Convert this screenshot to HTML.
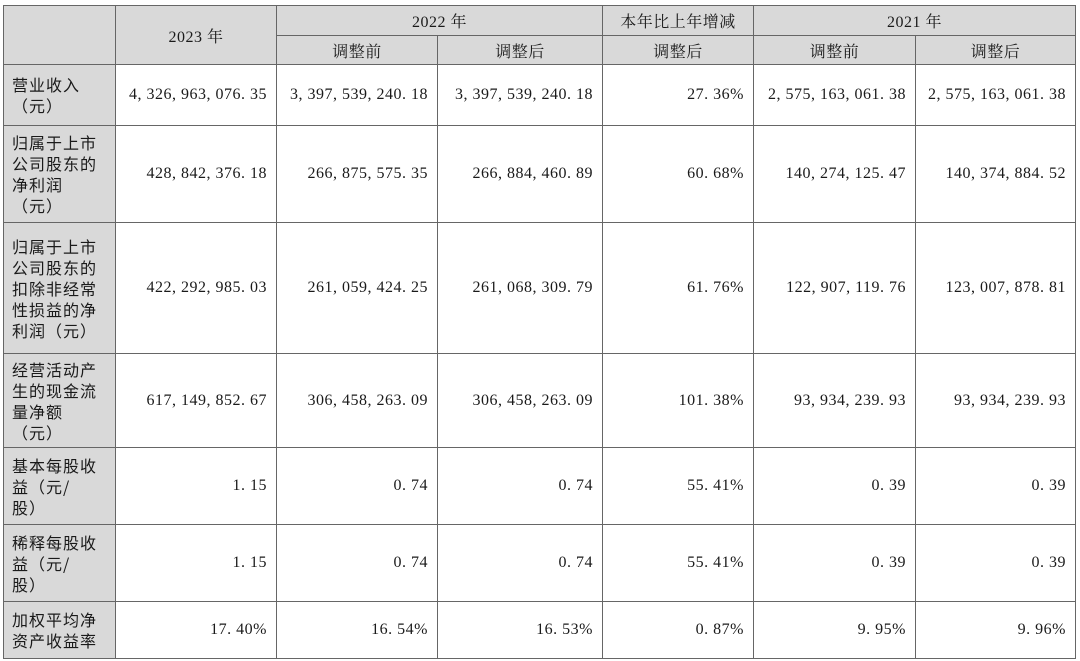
<!DOCTYPE html>
<html><head><meta charset="utf-8">
<style>
html,body{margin:0;padding:0;background:#fff;width:1080px;height:661px;overflow:hidden}
table{position:absolute;left:3px;top:5px;border-collapse:collapse;table-layout:fixed;font-family:"Liberation Serif","Noto Serif CJK SC",serif;color:#1a1a1a}
td{border:1px solid #666;padding:0;font-size:16px;letter-spacing:0.5px}
.h{background:#d9d9d9;text-align:center;font-family:"Liberation Serif","Noto Serif CJK SC",serif;font-size:16px}
.l{background:#d9d9d9;font-family:"Noto Sans CJK SC",sans-serif;font-size:16px;line-height:21px;padding-left:8px;letter-spacing:1px;vertical-align:middle}
.n{text-align:right;padding-right:9px}
</style></head><body>
<table>
<colgroup><col style="width:112px"><col style="width:161px"><col style="width:161px"><col style="width:165px"><col style="width:151px"><col style="width:162px"><col style="width:160px"></colgroup>
<tr style="height:30px"><td class="h" rowspan="2"></td><td class="h" rowspan="2">2023 年</td><td class="h" colspan="2">2022 年</td><td class="h">本年比上年增减</td><td class="h" colspan="2">2021 年</td></tr>
<tr style="height:29px"><td class="h">调整前</td><td class="h">调整后</td><td class="h">调整后</td><td class="h">调整前</td><td class="h">调整后</td></tr>
<tr style="height:61px"><td class="l">营业收入<br>（元）</td><td class="n">4, 326, 963, 076. 35</td><td class="n">3, 397, 539, 240. 18</td><td class="n">3, 397, 539, 240. 18</td><td class="n">27. 36%</td><td class="n">2, 575, 163, 061. 38</td><td class="n">2, 575, 163, 061. 38</td></tr>
<tr style="height:97px"><td class="l">归属于上市<br>公司股东的<br>净利润<br>（元）</td><td class="n">428, 842, 376. 18</td><td class="n">266, 875, 575. 35</td><td class="n">266, 884, 460. 89</td><td class="n">60. 68%</td><td class="n">140, 274, 125. 47</td><td class="n">140, 374, 884. 52</td></tr>
<tr style="height:131px"><td class="l">归属于上市<br>公司股东的<br>扣除非经常<br>性损益的净<br>利润（元）</td><td class="n">422, 292, 985. 03</td><td class="n">261, 059, 424. 25</td><td class="n">261, 068, 309. 79</td><td class="n">61. 76%</td><td class="n">122, 907, 119. 76</td><td class="n">123, 007, 878. 81</td></tr>
<tr style="height:94px"><td class="l">经营活动产<br>生的现金流<br>量净额<br>（元）</td><td class="n">617, 149, 852. 67</td><td class="n">306, 458, 263. 09</td><td class="n">306, 458, 263. 09</td><td class="n">101. 38%</td><td class="n">93, 934, 239. 93</td><td class="n">93, 934, 239. 93</td></tr>
<tr style="height:77px"><td class="l">基本每股收<br>益（元/<br>股）</td><td class="n">1. 15</td><td class="n">0. 74</td><td class="n">0. 74</td><td class="n">55. 41%</td><td class="n">0. 39</td><td class="n">0. 39</td></tr>
<tr style="height:77px"><td class="l">稀释每股收<br>益（元/<br>股）</td><td class="n">1. 15</td><td class="n">0. 74</td><td class="n">0. 74</td><td class="n">55. 41%</td><td class="n">0. 39</td><td class="n">0. 39</td></tr>
<tr style="height:57px"><td class="l">加权平均净<br>资产收益率</td><td class="n">17. 40%</td><td class="n">16. 54%</td><td class="n">16. 53%</td><td class="n">0. 87%</td><td class="n">9. 95%</td><td class="n">9. 96%</td></tr>
</table>
</body></html>
